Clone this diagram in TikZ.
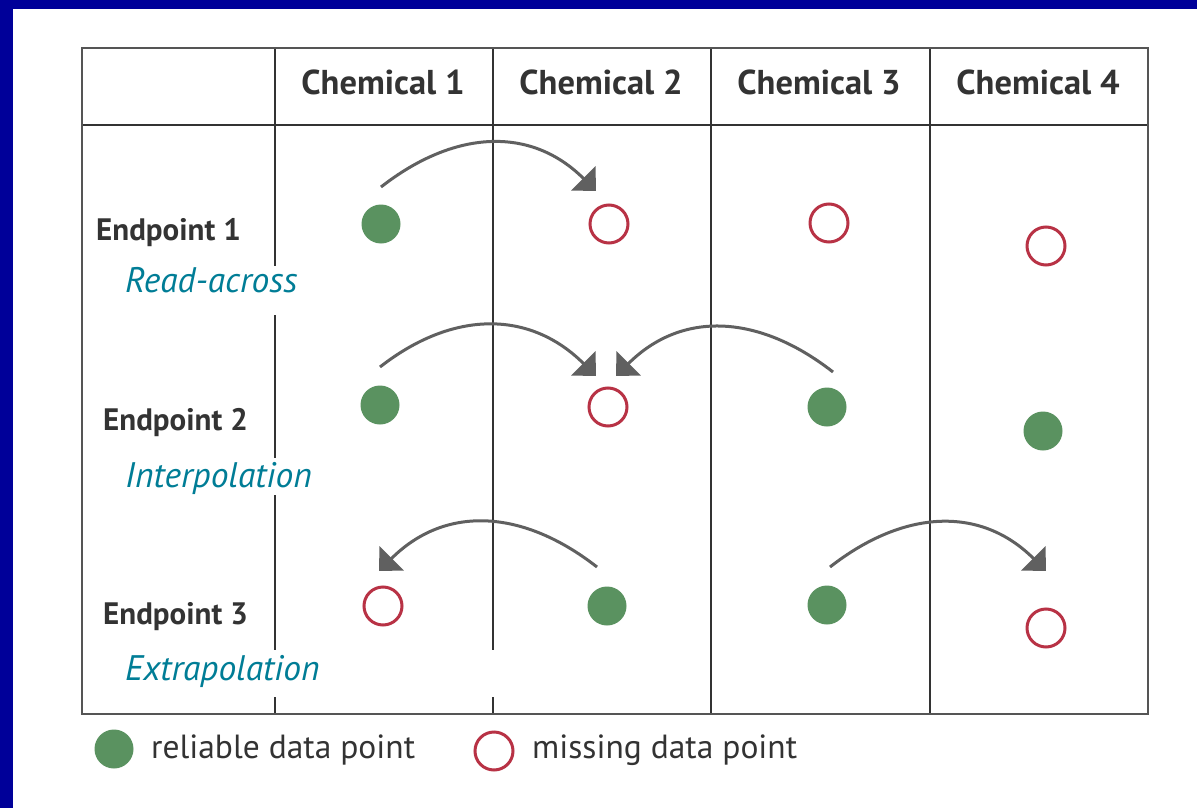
\documentclass[tikz,border=0pt]{standalone}
\usepackage{fontspec}
\setmainfont{PT Sans}
\usetikzlibrary{arrows.meta,calc}
\definecolor{bord}{RGB}{0,0,153}
\definecolor{outerln}{RGB}{85,85,85}
\definecolor{innerln}{RGB}{51,51,51}
\definecolor{goodc}{RGB}{90,146,96}
\definecolor{missc}{RGB}{184,50,69}
\definecolor{arrc}{RGB}{96,96,96}
\definecolor{tealc}{RGB}{0,125,150}
\definecolor{txtc}{RGB}{51,51,51}
\begin{document}
\begin{tikzpicture}[x=1pt,y=-1pt,
  good/.style={circle,fill=goodc,minimum size=39pt,inner sep=0pt},
  miss/.style={circle,draw=missc,fill=white,line width=3pt,minimum size=38pt,inner sep=0pt},
  arr/.style={draw=arrc,line width=3pt,-{Triangle[width=34pt,length=18pt]}},
  grid/.style={draw=innerln,line width=2.8pt},
  head/.style={font=\fontsize{34.5}{40}\selectfont\bfseries,text=txtc,inner sep=0pt,anchor=base},
  endp/.style={font=\fontsize{31}{36}\selectfont\bfseries,text=txtc,inner sep=0pt,anchor=base west},
  meth/.style={font=\fontsize{35.5}{40}\selectfont\itshape,text=tealc,inner sep=0pt,anchor=base west},
  legtxt/.style={font=\fontsize{33.5}{40}\selectfont,text=txtc,inner sep=0pt,anchor=base west}]
\useasboundingbox (0,0) rectangle (1197,808);
\fill[white] (0,0) rectangle (1197,808);
\fill[bord] (0,0) rectangle (1197,9);
\fill[bord] (0,0) rectangle (12.5,808);
% grid
\draw[grid] (82,125) -- (1148,125);
\draw[grid] (275,48) -- (275,266) (275,315) -- (275,458) (275,495) -- (275,650) (275,697) -- (275,714);
\draw[grid] (493,48) -- (493,650) (493,697) -- (493,714);
\draw[grid] (711,48) -- (711,714);
\draw[grid] (930,48) -- (930,714);
\draw[draw=outerln,line width=2.8pt] (82,48) rectangle (1148,714);
% headers
\node[head] (h1) at (383,95) {Chemical 1};
\node[head] (h2) at (601,95) {Chemical 2};
\node[head] (h3) at (819,95) {Chemical 3};
\node[head] (h4) at (1038,95) {Chemical 4};
% row labels
\node[endp] (e1) at (96,240) {Endpoint 1};
\node[meth] (m1) at (125,292) {Read-across};
\node[endp] (e2) at (103,430) {Endpoint 2};
\node[meth] (m2) at (125,487) {Interpolation};
\node[endp] (e3) at (103,624) {Endpoint 3};
\node[meth] (m3) at (125,680) {Extrapolation};
% points
\node[good] (p11) at (381,224) {};
\node[miss] (p12) at (609,224) {};
\node[miss] (p13) at (829,223) {};
\node[miss] (p14) at (1046,246) {};
\node[good] (p21) at (380,405) {};
\node[miss] (p22) at (608,407) {};
\node[good] (p23) at (827,407) {};
\node[good] (p24) at (1043,431) {};
\node[miss] (p31) at (383,606) {};
\node[good] (p32) at (607,606) {};
\node[good] (p33) at (827,605) {};
\node[miss] (p34) at (1046,628) {};
% arrow ends
\coordinate (a1s) at (381,187);
\coordinate (a1e) at (596,191);
\coordinate (a2s) at (380,367);
\coordinate (a2e) at (596,376);
\coordinate (a3s) at (833,372);
\coordinate (a3e) at (616,376);
\coordinate (a4s) at (597,567);
\coordinate (a4e) at (379,571);
\coordinate (a5s) at (830,567);
\coordinate (a5e) at (1046,571);
\draw[arr] (a1s) to[out=38,in=135,looseness=1.1] (a1e);
\draw[arr] (a2s) to[out=38,in=135,looseness=1.1] (a2e);
\draw[arr] (a3s) to[out=142,in=45,looseness=1.1] (a3e);
\draw[arr] (a4s) to[out=142,in=45,looseness=1.1] (a4e);
\draw[arr] (a5s) to[out=38,in=135,looseness=1.1] (a5e);
% legend
\node[good] (lg) at (114,749) {};
\node[legtxt] (lgt) at (151,758) {reliable data point};
\node[miss] (lm) at (494,751) {};
\node[legtxt] (lmt) at (532,758) {missing data point};
\end{tikzpicture}
\end{document}
